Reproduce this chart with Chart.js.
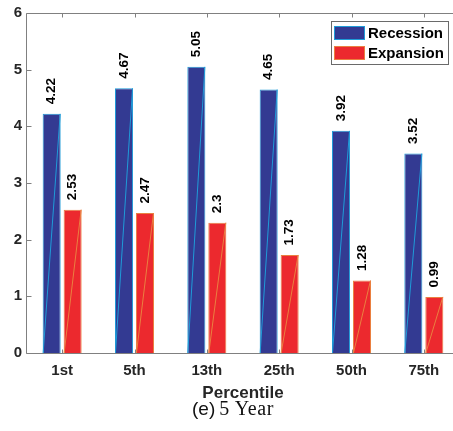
<!DOCTYPE html>
<html><head><meta charset="utf-8">
<script src="https://cdn.jsdelivr.net/npm/chart.js@4"></script>
<style>
html,body{margin:0;padding:0;background:#fff;overflow:hidden;}
#wrap{position:relative;width:453px;height:431px;overflow:hidden;background:#fff;}
#c{position:absolute;left:0;top:0;}
#cap{position:absolute;left:0;top:396px;width:466px;text-align:center;color:#111;white-space:nowrap;line-height:24px;}
#cap .a{font-family:"Liberation Sans",Arial,Helvetica,sans-serif;font-size:19px;}
#cap .b{font-family:"Liberation Serif","DejaVu Serif",serif;font-size:20px;letter-spacing:0.6px;}
</style></head>
<body>
<div id="wrap">
<canvas id="c" width="470" height="431"></canvas>
<div id="cap"><span class="a">(e)</span> <span class="b">5 Year</span></div>
</div>
<script>
const categories = ['1st','5th','13th','25th','50th','75th'];
const recession = [4.22, 4.67, 5.05, 4.65, 3.92, 3.52];
const expansion = [2.53, 2.47, 2.3, 1.73, 1.28, 0.99];
const seriesNames = ['Recession', 'Expansion'];
const yMin = 0, yMax = 6, yStep = 1;
const xTitle = 'Percentile';

const FONT = '"Liberation Sans", Arial, Helvetica, sans-serif';
const AXIS = '#808080';
const TXT = '#262626';

const deco = {
  id: 'deco',
  afterDatasetsDraw(chart) {
    const ctx = chart.ctx, a = chart.chartArea, xs = chart.scales.x, ys = chart.scales.y;
    ctx.save();
    chart.data.datasets.forEach((ds, di) => {
      const meta = chart.getDatasetMeta(di);
      meta.data.forEach((bar, i) => {
        const p = bar.getProps(['x', 'y', 'base', 'width'], true);
        ctx.strokeStyle = ds.borderColor;
        ctx.lineWidth = 1;
        ctx.beginPath();
        ctx.moveTo(p.x - p.width / 2 + 0.5, p.base);
        ctx.lineTo(p.x + p.width / 2 - 0.5, p.y);
        ctx.stroke();
        ctx.save();
        ctx.translate(p.x, p.y - 9.5);
        ctx.rotate(-Math.PI / 2);
        ctx.fillStyle = '#000';
        ctx.font = 'bold 13.5px ' + FONT;
        ctx.textAlign = 'left';
        ctx.textBaseline = 'middle';
        ctx.fillText(String(ds.data[i]), 0, 0);
        ctx.restore();
      });
    });
    // axes box (left, bottom, top)
    ctx.strokeStyle = AXIS;
    ctx.lineWidth = 1;
    const L = Math.round(a.left) + 0.5, T = Math.round(a.top) + 0.5, B = Math.round(a.bottom) + 0.5, R = a.right;
    ctx.beginPath();
    ctx.moveTo(R, T); ctx.lineTo(L, T); ctx.lineTo(L, B); ctx.lineTo(R, B);
    ctx.stroke();
    // inward ticks
    ctx.beginPath();
    for (let i = 0; i < categories.length; i++) {
      const x = Math.round(xs.getPixelForValue(i)) + 0.5;
      ctx.moveTo(x, B); ctx.lineTo(x, B - 4);
      ctx.moveTo(x, T); ctx.lineTo(x, T + 4);
    }
    for (let v = yMin; v <= yMax; v += yStep) {
      const y = Math.round(ys.getPixelForValue(v)) + 0.5;
      ctx.moveTo(L, y); ctx.lineTo(L + 5, y);
    }
    ctx.stroke();
    // legend
    const lx = 331, ly = 21, lw = 117, lh = 43;
    ctx.fillStyle = '#fff';
    ctx.fillRect(lx, ly, lw, lh);
    ctx.strokeStyle = '#6a6a6a';
    ctx.strokeRect(lx + 0.5, ly + 0.5, lw, lh);
    chart.data.datasets.forEach((ds, di) => {
      const sy = ly + 5 + di * 20;
      ctx.fillStyle = ds.backgroundColor;
      ctx.fillRect(lx + 3, sy, 31, 14);
      ctx.strokeStyle = ds.borderColor;
      ctx.strokeRect(lx + 3.5, sy + 0.5, 30, 13);
      ctx.fillStyle = '#000';
      ctx.font = 'bold 15px ' + FONT;
      ctx.textAlign = 'left';
      ctx.textBaseline = 'middle';
      ctx.fillText(ds.label, lx + 37, sy + 7.5);
    });
    ctx.restore();
  }
};

new Chart(document.getElementById('c'), {
  type: 'bar',
  data: {
    labels: categories,
    datasets: [
      { label: seriesNames[0], data: recession, backgroundColor: '#333a92', borderColor: '#1f9bd8', borderWidth: 1 },
      { label: seriesNames[1], data: expansion, backgroundColor: '#ec292e', borderColor: '#ea8040', borderWidth: 1 }
    ]
  },
  options: {
    responsive: false,
    animation: false,
    events: [],
    layout: { padding: { left: 0, top: 13, right: 10, bottom: 27 } },
    datasets: { bar: { categoryPercentage: 0.58, barPercentage: 0.86 } },
    plugins: { legend: { display: false }, tooltip: { enabled: false } },
    scales: {
      x: {
        type: 'category',
        offset: true,
        grid: { display: false, drawTicks: false },
        border: { display: false },
        ticks: { color: TXT, font: { family: FONT, size: 15, weight: 'bold' }, padding: 9, maxRotation: 0 },
        title: { display: true, text: xTitle, color: TXT, font: { family: FONT, size: 17, weight: 'bold' }, padding: { top: 2, bottom: 0 } },
        afterFit(s) { s.height = 51; }
      },
      y: {
        min: yMin, max: yMax,
        grid: { display: false, drawTicks: false },
        border: { display: false },
        ticks: { stepSize: yStep, color: TXT, font: { family: FONT, size: 15, weight: 'bold' }, padding: 4 },
        afterFit(s) { s.width = 26; }
      }
    }
  },
  plugins: [deco]
});
</script>
</body></html>
